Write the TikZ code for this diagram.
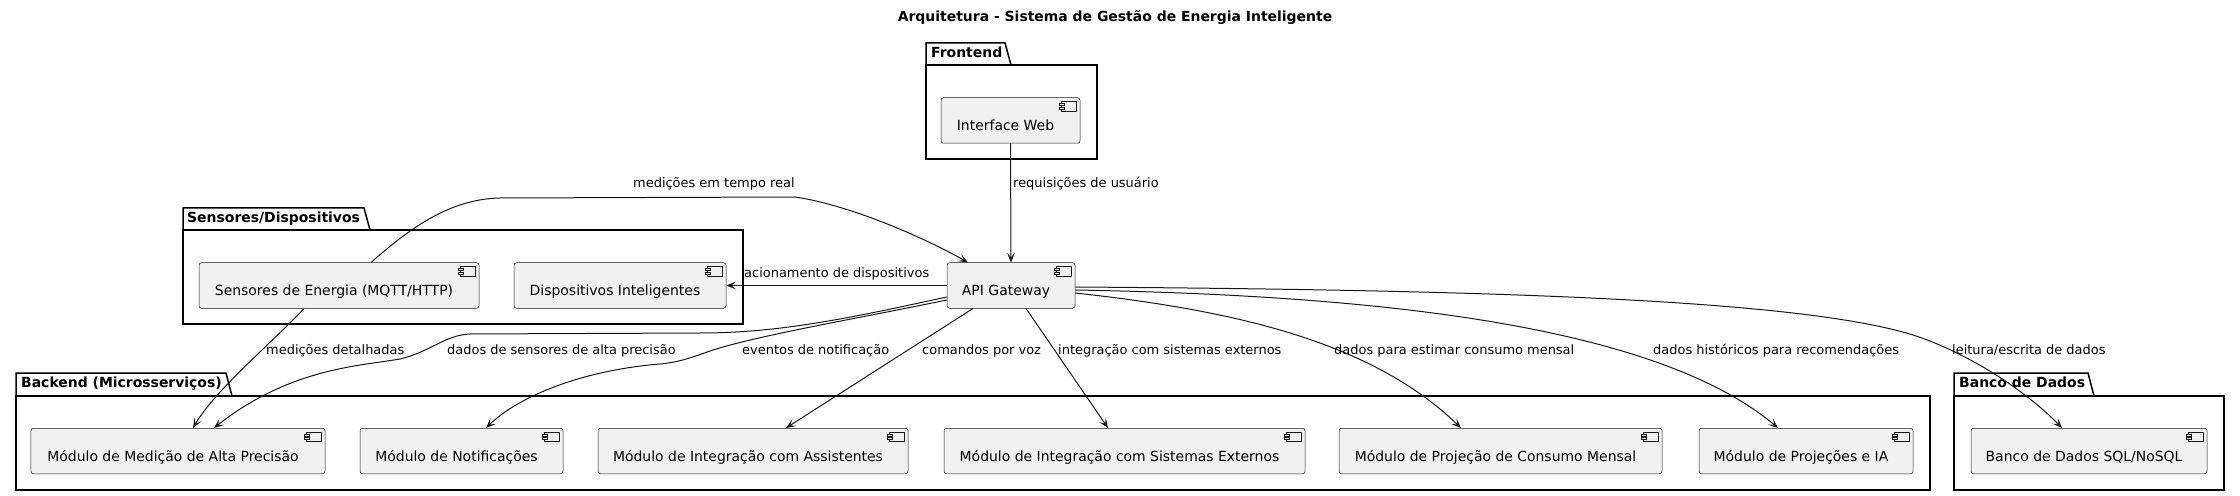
\documentclass[tikz,border=0pt]{standalone}
\usepackage{fontspec}
\setmainfont{DejaVu Sans}
\usetikzlibrary{arrows.meta}
\definecolor{compfill}{HTML}{F1F1F1}
\definecolor{compline}{HTML}{181818}
\newcommand\cicon[1]{%
  \draw[compline, fill=compfill, line width=0.5bp] ([xshift=-19bp,yshift=-4bp]#1.north east) rectangle ([xshift=-4bp,yshift=-13.5bp]#1.north east);
  \draw[compline, fill=compfill, line width=0.5bp] ([xshift=-21.5bp,yshift=-6bp]#1.north east) rectangle ([xshift=-16.5bp,yshift=-8bp]#1.north east);
  \draw[compline, fill=compfill, line width=0.5bp] ([xshift=-21.5bp,yshift=-9.5bp]#1.north east) rectangle ([xshift=-16.5bp,yshift=-11.5bp]#1.north east);
}
\begin{document}
\begin{tikzpicture}[x=1bp,y=-1bp,
  comp/.style={draw=compline, fill=compfill, line width=0.5bp, rounded corners=2.5bp,
    minimum height=45.5bp, font=\fontsize{14}{16}\selectfont, text height=22.5bp, text depth=2bp,
    inner sep=0pt, execute at end node={\hspace*{10bp}}},
  lbl/.style={font=\fontsize{13}{15}\selectfont, inner sep=0pt, anchor=base west},
  pkglbl/.style={font=\bfseries\fontsize{14}{16}\selectfont, inner sep=0pt, anchor=base west},
  pkgline/.style={draw=black, line width=1.5bp},
  conn/.style={draw=compline, line width=1bp, -{Stealth[length=10bp,width=8bp,inset=5bp]}}]
\useasboundingbox (0,0) rectangle (2240,496);
\fill[white] (0,0) rectangle (2240,496);

% title
\node[font=\bfseries\fontsize{14}{16}\selectfont, inner sep=0pt, anchor=base] (title) at (1115,22) {Arquitetura - Sistema de Gestão de Energia Inteligente};

% packages
\draw[pkgline] (926,65) -- (926,43) -- (1005,43) -- (1011,65);
\draw[pkgline] (926,65) rectangle (1097,159);
\node[pkglbl] (pfront) at (931,57.5) {Frontend};

\draw[pkgline] (183,230) -- (183,208) -- (364,208) -- (370,230);
\draw[pkgline] (183,230) rectangle (743,324);
\node[pkglbl] (psens) at (187,222.5) {Sensores/Dispositivos};

\draw[pkgline] (16,396) -- (16,373) -- (226,373) -- (232,396);
\draw[pkgline] (16,396) rectangle (1930,490);
\node[pkglbl] (pback) at (21,387.5) {Backend (Microsserviços)};

\draw[pkgline] (1954,396) -- (1954,373) -- (2088,373) -- (2094,396);
\draw[pkgline] (1954,396) rectangle (2224,490);
\node[pkglbl] (pdb) at (1959,387.5) {Banco de Dados};

% components
\node[comp, minimum width=139bp] (iw) at (1010.5,120.5) {Interface Web};
\node[comp, minimum width=128bp] (api) at (1011,285.5) {API Gateway};
\node[comp, minimum width=280bp] (sen) at (339,285.5) {Sensores de Energia (MQTT/HTTP)};
\node[comp, minimum width=212bp] (dis) at (620,285.5) {Dispositivos Inteligentes};
\node[comp, minimum width=294bp] (med) at (178,451) {Módulo de Medição de Alta Precisão};
\node[comp, minimum width=203bp] (not) at (461.5,451) {Módulo de Notificações};
\node[comp, minimum width=310bp] (ass) at (753,451) {Módulo de Integração com Assistentes};
\node[comp, minimum width=361bp] (ext) at (1124.5,451) {Módulo de Integração com Sistemas Externos};
\node[comp, minimum width=323bp] (con) at (1500.5,451) {Módulo de Projeção de Consumo Mensal};
\node[comp, minimum width=214bp] (ia) at (1806,451) {Módulo de Projeções e IA};
\node[comp, minimum width=236bp] (db) at (2089,451) {Banco de Dados SQL/NoSQL};
\foreach \c in {iw,api,sen,dis,med,not,ass,ext,con,ia,db} {\cicon{\c}}

% connectors
\draw[conn] (iw.south) -- (api.north);
\node[lbl] (l1) at (1013,188) {requisições de usuário};

\draw[conn] ([xshift=32bp]sen.north) .. controls (410,228) and (450,199) .. (500,198) -- (795,197) .. controls (850,205) and (925,238) .. ([xshift=-43bp]api.north);
\node[lbl] (l2) at (633,188) {medições em tempo real};

\draw[conn] (api.west) -- (dis.east);
\node[lbl] (l3) at (744,278) {acionamento de dispositivos};

\draw[conn] ([xshift=-35bp]sen.south) .. controls (275,340) and (215,390) .. ([xshift=15bp]med.north);
\node[lbl] (l4) at (266,354) {medições detalhadas};

\draw[conn] ([yshift=-11.5bp]api.west) .. controls (850,318) and (780,333) .. (700,333) -- (470,334) .. controls (445,335) and (430,352) .. (400,359) .. controls (360,366) and (290,368) .. ([xshift=36bp]med.north);
\node[lbl] (l5) at (447,354) {dados de sensores de alta precisão};

\draw[conn] ([yshift=-14.5bp]api.west) .. controls (860,318) and (760,335) .. (713,350) .. controls (690,358) and (680,362) .. (660,364) .. controls (585,370) and (520,395) .. ([xshift=24.5bp]not.north);
\node[lbl] (l6) at (742,354) {eventos de notificação};

\draw[conn] ([xshift=-38bp]api.south) -- ([xshift=33bp]ass.north);
\node[lbl] (l7) at (922,354) {comandos por voz};

\draw[conn] ([xshift=15bp]api.south) -- ([xshift=-16.5bp]ext.north);
\node[lbl] (l8) at (1058,354) {integração com sistemas externos};

\draw[conn] ([yshift=-7.5bp]api.east) .. controls (1230,310) and (1370,340) .. ([xshift=-39.5bp]con.north);
\node[lbl] (l9) at (1334,354) {dados para estimar consumo mensal};

\draw[conn] ([yshift=-4.5bp]api.east) .. controls (1350,295) and (1650,320) .. ([xshift=-28bp]ia.north);
\node[lbl] (l10) at (1653,354) {dados históricos para recomendações};

\draw[conn] ([yshift=-1.5bp]api.east) .. controls (1500,290) and (1800,300) .. (1913,335) .. controls (1960,350) and (2020,385) .. ([xshift=-27bp]db.north);
\node[lbl] (l11) at (1952,354) {leitura/escrita de dados};
\end{tikzpicture}
\end{document}
